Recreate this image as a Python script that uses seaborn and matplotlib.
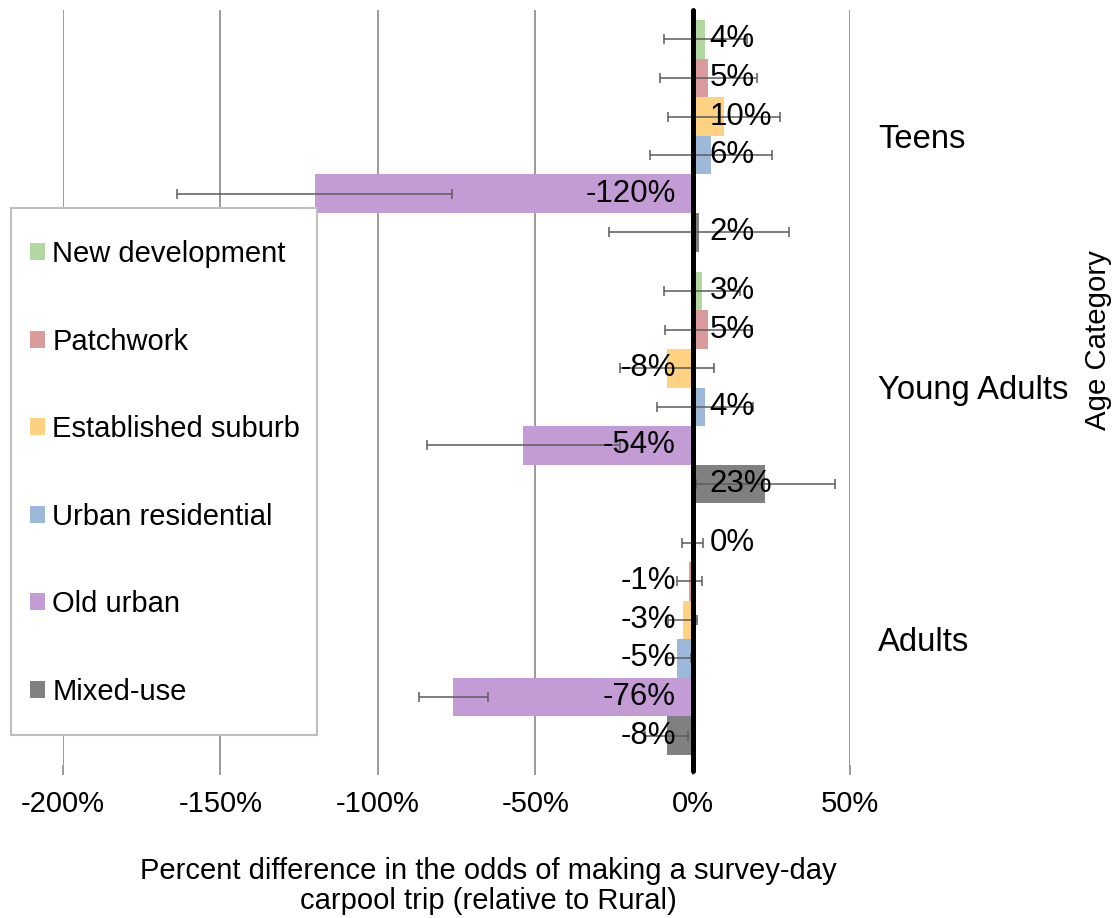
#!/usr/bin/env python3

# Carpool odds by neighborhood type and age category (horizontal grouped bars).
import matplotlib

matplotlib.use("Agg")
import matplotlib.pyplot as plt
import pandas
import seaborn as sns
from matplotlib.patches import Patch, Rectangle

sns.set_theme(style="white")
plt.rcParams["font.family"] = ["Liberation Sans", "DejaVu Sans"]
plt.rcParams["text.color"] = "black"
plt.rcParams["xtick.labelcolor"] = "black"
plt.rcParams["ytick.labelcolor"] = "black"

# Data
ages = ["Teens", "Young Adults", "Adults"]
types = [
    "New development",
    "Patchwork",
    "Established suburb",
    "Urban residential",
    "Old urban",
    "Mixed-use",
]
colors = ["#B3D7A0", "#D99B9B", "#FFD281", "#9DB9D9", "#C39CD5", "#808080"]

teens = [4, 5, 10, 6, -120, 2]
young_adults = [3, 5, -8, 4, -54, 23]
adults = [0, -1, -3, -5, -76, -8]

# lower / upper ends of the error bars
teens_lo = [-9.0, -10.3, -7.7, -13.4, -163.7, -26.7]
teens_hi = [17.2, 20.4, 27.8, 25.2, -76.3, 30.7]
young_adults_lo = [-9.0, -8.7, -23.0, -11.4, -84.4, 1.0]
young_adults_hi = [15.0, 18.8, 6.9, 19.3, -23.0, 45.2]
adults_lo = [-3.4, -5.0, -7.8, -8.2, -86.8, -15.1]
adults_hi = [3.4, 2.9, 1.5, -0.5, -65.0, -1.4]

xticks = [-200, -150, -100, -50, 0, 50]


def build_frame():
    rows = []
    series = [
        (ages[0], teens, teens_lo, teens_hi),
        (ages[1], young_adults, young_adults_lo, young_adults_hi),
        (ages[2], adults, adults_lo, adults_hi),
    ]
    for age, vals, lo, hi in series:
        for t, v, l, h in zip(types, vals, lo, hi):
            rows.append({"age": age, "type": t, "value": v, "lo": l, "hi": h})
    return pandas.DataFrame(rows)


def main():
    df = build_frame()
    W, H = 1116, 918
    fig, ax = plt.subplots(figsize=(W / 100, H / 100), dpi=100)
    fig.subplots_adjust(left=63 / W, right=850 / W, top=1 - 10 / H, bottom=1 - 765 / H)

    sns.barplot(
        data=df,
        x="value",
        y="age",
        hue="type",
        order=ages,
        hue_order=types,
        palette=colors,
        orient="h",
        width=0.92,
        errorbar=None,
        saturation=1,
        linewidth=0,
        legend=False,
        ax=ax,
    )

    # error bars + value labels, taken from the bar containers
    for container, t in zip(ax.containers, types):
        for bar, age in zip(container, ages):
            row = df[(df.age == age) & (df.type == t)].iloc[0]
            yc = bar.get_y() + bar.get_height() / 2
            v = row.value
            ax.errorbar(
                v,
                yc,
                xerr=[[v - row.lo], [row.hi - v]],
                fmt="none",
                ecolor="#5E5E5E",
                alpha=0.8,
                elinewidth=1.4,
                capsize=3.6,
                capthick=1.4,
                zorder=3,
            )
            off = -12.2 if v < 0 else 12.2
            ax.annotate(
                f"{v}%",
                xy=(0, yc),
                xytext=(off, 0),
                textcoords="offset points",
                ha="right" if v < 0 else "left",
                va="center",
                fontsize=22.5,
                color="black",
                zorder=5,
            )

    ax.axvline(0, ymin=-0.008, ymax=1, color="black", lw=3.6, zorder=3.5, clip_on=False)

    ax.set_xlim(-200, 50)
    ax.set_ylim(2.5, -0.5)
    ax.set_xticks(xticks)
    ax.set_xticklabels([f"{t}%" for t in xticks], fontsize=21)
    ax.grid(axis="x", color="#8A8A8A", lw=1.2)
    ax.grid(axis="y", visible=False)
    ax.set_axisbelow(True)
    for s in ax.spines.values():
        s.set_visible(False)
    ax.tick_params(axis="x", bottom=True, length=7, width=1.2, color="#8A8A8A", pad=11)
    ax.yaxis.tick_right()
    ax.tick_params(axis="y", length=0, pad=20, labelsize=23.6, left=False, right=False)
    ax.set_xlabel("")
    ax.set_ylabel("")

    fig.text(
        488 / W,
        1 - 886 / H,
        "Percent difference in the odds of making a survey-day\ncarpool trip (relative to Rural)",
        ha="center",
        va="center",
        fontsize=21,
        linespacing=1.1,
    )
    fig.text(1098 / W, 1 - 340 / H, "Age Category", rotation=90, ha="center", va="center", fontsize=21.2)

    # legend box drawn by hand so the frame matches
    frame = Rectangle(
        (11 / W, 1 - 735 / H),
        306 / W,
        527 / H,
        transform=fig.transFigure,
        facecolor="white",
        edgecolor="#BFBFBF",
        lw=1.5,
        zorder=4,
    )
    fig.patches.append(frame)
    handles = [Patch(facecolor=c, edgecolor="none", label=t) for t, c in zip(types, colors)]
    leg = fig.legend(
        handles=handles,
        loc="center left",
        bbox_to_anchor=(30 / W, 1 - 473 / H),
        frameon=False,
        fontsize=21,
        handlelength=0.52,
        handleheight=0.52,
        handletextpad=0.24,
        labelspacing=2.04,
        borderpad=0,
        borderaxespad=0,
    )
    leg.set_zorder(6)

    fig.savefig("out.png", dpi=100)
    plt.close()


if __name__ == "__main__":
    main()
